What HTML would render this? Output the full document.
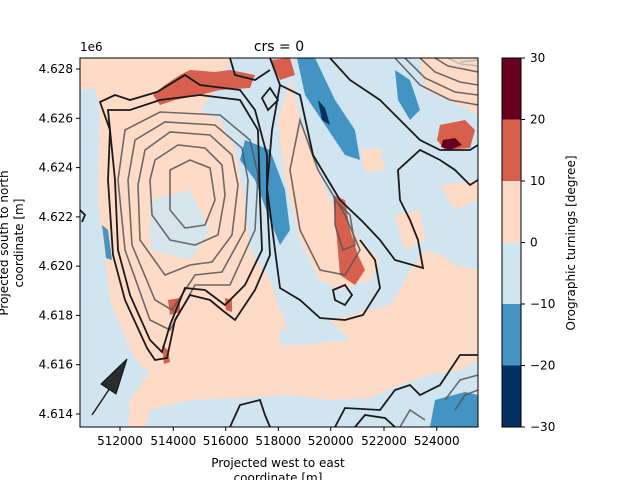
<!DOCTYPE html>
<html><head><meta charset="utf-8"><style>
body{margin:0;background:#fff;}
svg{display:block;font-family:"DejaVu Sans","Liberation Sans",sans-serif;}
</style></head><body>
<svg width="640" height="480" viewBox="0 0 640 480">
<defs><clipPath id="c"><rect x="80" y="58" width="398" height="369"/></clipPath></defs>
<g clip-path="url(#c)">
<rect x="80" y="58" width="398" height="369" fill="#fddbc7"/>
<!-- light blue regions -->
<path d="M80,90 L95,88 L100,110 L98,200 L110,300 L128,345 L140,365 L150,372 L140,385 L130,400 L128,427 L80,427Z" fill="#d1e5f0"/>
<path d="M145,427 L150,410 L190,400 L240,398 L290,395 L330,400 L370,398 L400,385 L430,375 L460,370 L478,360 L478,427Z" fill="#d1e5f0"/>
<path d="M232,58 L420,58 L425,90 L470,110 L478,115 L478,270 L455,265 L440,255 L425,250 L410,270 L400,290 L390,305 L330,320 L310,330 L290,335 L280,310 L270,280 L250,250 L245,200 L235,150 L220,120 L200,110 L215,90Z" fill="#d1e5f0"/>
<path d="M290,80 L310,150 L330,200 L360,240 L380,260 L370,280 L340,290 L320,280 L300,240 L285,180 L278,120Z" fill="#fddbc7"/>
<path d="M150,200 L190,190 L210,230 L190,260 L150,250Z" fill="#d1e5f0" opacity=".9"/>
<path d="M420,58 L478,58 L478,90 L440,85Z" fill="#fddbc7"/>
<path d="M440,185 L478,180 L478,200 L455,210Z" fill="#fddbc7"/>
<path d="M395,215 L420,210 L425,240 L405,250Z" fill="#fddbc7"/>
<path d="M360,150 L380,148 L385,170 L365,172Z" fill="#fddbc7"/>
<path d="M280,330 L330,320 L350,340 L300,345 L280,345Z" fill="#d1e5f0"/>
<!-- mid blue -->
<path d="M245,140 L270,150 L285,190 L290,230 L280,245 L270,220 L255,180 L240,160Z" fill="#4393c3"/>
<path d="M297,58 L315,58 L335,100 L355,130 L360,160 L345,155 L325,125 L305,95Z" fill="#4393c3"/>
<path d="M395,70 L410,80 L420,110 L410,120 L398,100Z" fill="#4393c3"/>
<path d="M435,400 L465,392 L478,395 L478,427 L430,427Z" fill="#4393c3"/>
<path d="M102,225 L108,230 L112,260 L106,258Z" fill="#4393c3"/>
<path d="M318,100 L325,108 L330,125 L322,120Z" fill="#053061"/>
<!-- reds -->
<path d="M153,95 L165,85 L180,75 L190,70 L215,72 L230,70 L255,75 L250,88 L220,90 L200,95 L175,100 L160,105Z" fill="#d6604d"/>
<path d="M270,60 L290,58 L295,75 L280,80Z" fill="#d6604d"/>
<path d="M333,195 L345,200 L350,230 L358,255 L365,270 L355,285 L340,275 L337,240Z" fill="#d6604d"/>
<path d="M440,125 L465,120 L475,130 L470,148 L445,150 L437,140Z" fill="#d6604d"/>
<path d="M443,140 L455,138 L462,145 L450,150 L441,147Z" fill="#67001f"/>
<path d="M168,300 L180,298 L180,312 L170,315Z" fill="#d6604d"/>
<path d="M225,298 L232,300 L232,312 L226,310Z" fill="#d6604d"/>
<path d="M162,345 L168,350 L170,362 L164,364Z" fill="#d6604d"/>
<!-- gray contours (inner) -->
<g fill="none" stroke="#555" stroke-width="1.6" opacity=".85">
<path d="M125,130 L160,112 L220,115 L250,140 L258,175 L255,230 L230,285 L195,285 L170,330 L150,320 L125,250 L118,180Z"/>
<path d="M135,140 L165,122 L215,125 L242,148 L248,180 L245,230 L222,272 L195,275 L172,310 L155,300 L132,245 L128,180Z"/>
<path d="M145,150 L170,132 L210,135 L232,155 L238,185 L232,235 L212,262 L190,265 L165,275 L140,240 L138,185Z"/>
<path d="M155,160 L178,145 L205,148 L222,165 L225,195 L218,235 L195,245 L170,240 L152,215 L150,180Z"/>
<path d="M170,170 L190,160 L210,168 L215,200 L205,225 L185,228 L170,210Z"/>
<path d="M300,120 L318,170 L345,215 L360,250 L345,275 L320,270 L300,230 L290,170Z"/>
<path d="M335,200 L350,215 L355,245 L343,250 L335,225Z"/>
<path d="M395,58 L420,85 L450,100 L478,105"/>
<path d="M405,58 L425,78 L455,92 L478,95"/>
<path d="M420,58 L435,72 L460,82 L478,85"/>
<path d="M435,58 L448,66 L478,72"/>
<path d="M445,400 L460,380 L478,375"/>
<path d="M455,410 L465,395 L478,390"/>
<path d="M400,427 L410,410 L425,420"/>
</g>
<g fill="none" stroke="#bbb" stroke-width="1.4"><path d="M448,58 L460,64 L478,66"/><path d="M460,62 L478,60"/></g>
<!-- dark contours -->
<g fill="none" stroke="#1a1a1a" stroke-width="1.8">
<path d="M100,102 L115,95 L130,100 L157,92 L185,75 L200,85 L240,90 L255,110 L267,155 L267,200 L270,255 L255,290 L235,320 L222,310 L210,300 L190,295 L175,320 L167,358 L155,360 L147,348 L125,300 L113,255 L108,180 L110,130Z"/>
<path d="M108,110 L130,110 L160,100 L200,95 L240,100 L258,130 L260,200 L262,250 L245,285 L225,305 L205,290 L185,288 L170,325 L162,352 L150,340 L130,295 L118,250 L115,180Z"/>
<path d="M270,58 L280,85 L300,95 L313,155 L340,200 L363,222 L380,240 L395,260 L423,268 L418,240 L410,220 L400,200 L398,170 L420,150 L440,160 L455,170 L470,185 L478,180"/>
<path d="M280,85 L272,130 L267,188 L275,250 L280,288 L300,300 L320,318 L345,320 L363,315 L380,288 L375,260 L360,240"/>
<path d="M330,58 L350,80 L380,100 L400,120 L420,140 L440,150 L470,150 L478,145"/>
<path d="M230,58 L235,75 L255,80 L270,70"/>
<path d="M270,88 L278,100 L268,110 L262,98Z"/>
<path d="M80,210 L85,215 L82,222"/>
<path d="M230,427 L240,405 L260,400 L265,415 L270,427"/>
<path d="M335,427 L345,408 L380,410 L395,390 L410,385 L420,395 L440,385 L460,355 L478,355"/>
<path d="M355,427 L365,415 L385,418 L395,427"/>
<path d="M333,290 L345,285 L352,295 L345,305 L335,300Z"/>
</g>
</g>
<rect x="80" y="58" width="398" height="369" fill="none" stroke="#000" stroke-width="1"/>
<!-- arrow -->
<line x1="92" y1="415" x2="112" y2="385" stroke="#222" stroke-width="1.5"/>
<path d="M127,359 L116,394 L101,384Z" fill="#2a2d2e" stroke="#111" stroke-width="1"/>
<!-- ticks -->
<g stroke="#000" stroke-width="1">
<line x1="76" y1="69" x2="80" y2="69"/><line x1="76" y1="118.3" x2="80" y2="118.3"/><line x1="76" y1="167.6" x2="80" y2="167.6"/><line x1="76" y1="216.9" x2="80" y2="216.9"/><line x1="76" y1="266.1" x2="80" y2="266.1"/><line x1="76" y1="315.4" x2="80" y2="315.4"/><line x1="76" y1="364.7" x2="80" y2="364.7"/><line x1="76" y1="414" x2="80" y2="414"/>
<line x1="120" y1="427" x2="120" y2="431"/><line x1="173.3" y1="427" x2="173.3" y2="431"/><line x1="225.7" y1="427" x2="225.7" y2="431"/><line x1="278.3" y1="427" x2="278.3" y2="431"/><line x1="330.7" y1="427" x2="330.7" y2="431"/><line x1="384" y1="427" x2="384" y2="431"/><line x1="436.7" y1="427" x2="436.7" y2="431"/>
</g>
<g font-size="12" fill="#000" text-anchor="end">
<text x="73" y="73">4.628</text><text x="73" y="122.3">4.626</text><text x="73" y="171.6">4.624</text><text x="73" y="220.9">4.622</text><text x="73" y="270.1">4.620</text><text x="73" y="319.4">4.618</text><text x="73" y="368.7">4.616</text><text x="73" y="418">4.614</text>
</g>
<g font-size="12" fill="#000" text-anchor="middle">
<text x="120" y="445">512000</text><text x="173.3" y="445">514000</text><text x="225.7" y="445">516000</text><text x="278.3" y="445">518000</text><text x="330.7" y="445">520000</text><text x="384" y="445">522000</text><text x="436.7" y="445">524000</text>
<text x="278" y="467">Projected west to east</text>
<text x="278" y="482">coordinate [m]</text>
<text x="279" y="51" font-size="14">crs = 0</text>
</g>
<text x="80" y="51" font-size="12">1e6</text>
<g font-size="12" text-anchor="middle">
<text transform="translate(8,243) rotate(-90)">Projected south to north</text>
<text transform="translate(23,243) rotate(-90)">coordinate [m]</text>
</g>
<!-- colorbar -->
<rect x="502" y="58" width="19" height="61.5" fill="#67001f"/>
<rect x="502" y="119.5" width="19" height="61.5" fill="#d6604d"/>
<rect x="502" y="181" width="19" height="61.5" fill="#fddbc7"/>
<rect x="502" y="242.5" width="19" height="61.5" fill="#d1e5f0"/>
<rect x="502" y="304" width="19" height="61.5" fill="#4393c3"/>
<rect x="502" y="365.5" width="19" height="61.5" fill="#053061"/>
<rect x="502" y="58" width="19" height="369" fill="none" stroke="#000" stroke-width="1"/>
<g stroke="#000"><line x1="521" y1="58" x2="525" y2="58"/><line x1="521" y1="119.5" x2="525" y2="119.5"/><line x1="521" y1="181" x2="525" y2="181"/><line x1="521" y1="242.5" x2="525" y2="242.5"/><line x1="521" y1="304" x2="525" y2="304"/><line x1="521" y1="365.5" x2="525" y2="365.5"/><line x1="521" y1="427" x2="525" y2="427"/></g>
<g font-size="12"><text x="530" y="62">30</text><text x="530" y="123.5">20</text><text x="530" y="185">10</text><text x="530" y="246.5">0</text><text x="530" y="308">−10</text><text x="530" y="369.5">−20</text><text x="530" y="431">−30</text></g>
<text transform="translate(575,243) rotate(-90)" font-size="12" text-anchor="middle">Orographic turnings [degree]</text>
</svg>
</body></html>
